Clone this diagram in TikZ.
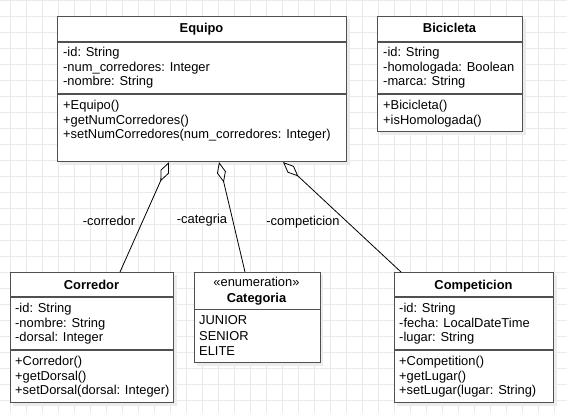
\documentclass[tikz,border=0pt]{standalone}
\usepackage{fontspec}
\setmainfont{Liberation Sans}
\usetikzlibrary{arrows.meta,calc}
\definecolor{gridc}{RGB}{234,234,234}
\definecolor{boxc}{RGB}{80,80,80}
\definecolor{shadc}{RGB}{236,236,236}
\begin{document}
\begin{tikzpicture}[x=1pt,y=-1pt,
  box/.style={draw=boxc, line width=1.1pt, fill=white, rectangle, inner sep=0pt, anchor=north west},
  shad/.style={fill=shadc, draw=none},
  sepline/.style={draw=boxc, line width=1.1pt},
  txt/.style={anchor=base west, inner sep=0pt, font=\fontsize{12.9}{14.5}\selectfont},
  ttl/.style={anchor=base, inner sep=0pt, font=\fontsize{12.9}{14.5}\selectfont\bfseries},
  lbl/.style={anchor=base, inner sep=0pt, font=\fontsize{12.9}{14.5}\selectfont},
  assoc/.style={draw=black, line width=0.8pt, {Diamond[open,length=21pt,width=9pt]}-},
  gridline/.style={draw=gridc, line width=0.8pt}
]
\useasboundingbox (0,0) rectangle (567,413);
\fill[white] (0,0) rectangle (567,413);
% grid
\foreach \gx in {0,...,35} \draw[gridline] (10.7+16*\gx,0) -- (10.7+16*\gx,413);
\foreach \gy in {0,...,25} \draw[gridline] (0,0.7+16*\gy) -- (567,0.7+16*\gy);

% shadows
\fill[shad] (60,19) rectangle (350,165);
\fill[shad] (380,19) rectangle (526,135);
\fill[shad] (13,275) rectangle (177,406);
\fill[shad] (197,275) rectangle (323,366);
\fill[shad] (397,275) rectangle (557,406);

% boxes
\node[box, minimum width=289pt, minimum height=145pt] (equipo) at (57,16) {};
\node[box, minimum width=145pt, minimum height=115pt] (bici) at (377,16) {};
\node[box, minimum width=163pt, minimum height=130pt] (corredor) at (10,272) {};
\node[box, minimum width=126pt, minimum height=90pt] (categoria) at (193.5,272) {};
\node[box, minimum width=159pt, minimum height=130pt] (competicion) at (394,272) {};

% separators
\draw[sepline] ($(equipo.north west)+(0,26)$) -- ($(equipo.north east)+(0,26)$);
\draw[sepline] ($(equipo.north west)+(0,78)$) -- ($(equipo.north east)+(0,78)$);
\draw[sepline] ($(bici.north west)+(0,26)$) -- ($(bici.north east)+(0,26)$);
\draw[sepline] ($(bici.north west)+(0,78)$) -- ($(bici.north east)+(0,78)$);
\draw[sepline] ($(corredor.north west)+(0,25)$) -- ($(corredor.north east)+(0,25)$);
\draw[sepline] ($(corredor.north west)+(0,78)$) -- ($(corredor.north east)+(0,78)$);
\draw[sepline] ($(categoria.north west)+(0,37.5)$) -- ($(categoria.north east)+(0,37.5)$);
\draw[sepline] ($(competicion.north west)+(0,25)$) -- ($(competicion.north east)+(0,25)$);
\draw[sepline] ($(competicion.north west)+(0,78)$) -- ($(competicion.north east)+(0,78)$);

% Equipo
\node[ttl] (eq-t) at (201.5,32.5) {Equipo};
\node[txt] (eq-a1) at (63,56.5) {-id: String};
\node[txt] (eq-a2) at (63,71) {-num\_corredores: Integer};
\node[txt] (eq-a3) at (63,85.5) {-nombre: String};
\node[txt] (eq-m1) at (63,109.5) {+Equipo()};
\node[txt] (eq-m2) at (63,124) {+getNumCorredores()};
\node[txt] (eq-m3) at (63,138.5) {+setNumCorredores(num\_corredores: Integer)};

% Bicicleta
\node[ttl] (bi-t) at (449.5,32.5) {Bicicleta};
\node[txt] (bi-a1) at (383,56.5) {-id: String};
\node[txt] (bi-a2) at (383,71) {-homologada: Boolean};
\node[txt] (bi-a3) at (383,85.5) {-marca: String};
\node[txt] (bi-m1) at (383,109.5) {+Bicicleta()};
\node[txt] (bi-m2) at (383,124) {+isHomologada()};

% Corredor
\node[ttl] (co-t) at (91.5,289.5) {Corredor};
\node[txt] (co-a1) at (15,312.5) {-id: String};
\node[txt] (co-a2) at (15,327) {-nombre: String};
\node[txt] (co-a3) at (15,341.5) {-dorsal: Integer};
\node[txt] (co-m1) at (15,365.5) {+Corredor()};
\node[txt] (co-m2) at (15,380) {+getDorsal()};
\node[txt] (co-m3) at (15,394.5) {+setDorsal(dorsal: Integer)};

% Categoria
\node[lbl] (ca-s) at (256.5,286.2) {«enumeration»};
\node[ttl] (ca-t) at (256.5,302.8) {Categoria};
\node[txt] (ca-1) at (199,324.6) {JUNIOR};
\node[txt] (ca-2) at (199,340.2) {SENIOR};
\node[txt] (ca-3) at (199,355.6) {ELITE};

% Competicion
\node[ttl] (cp-t) at (473.5,289.5) {Competicion};
\node[txt] (cp-a1) at (399,312.5) {-id: String};
\node[txt] (cp-a2) at (399,327) {-fecha: LocalDateTime};
\node[txt] (cp-a3) at (399,341.5) {-lugar: String};
\node[txt] (cp-m1) at (399,365.5) {+Competition()};
\node[txt] (cp-m2) at (399,380) {+getLugar()};
\node[txt] (cp-m3) at (399,394.5) {+setLugar(lugar: String)};

% connector end points
\path (equipo.south west) ++(112,0) coordinate (eqA);
\path (equipo.south west) ++(162,0) coordinate (eqB);
\path (equipo.south west) ++(226,0) coordinate (eqC);
\path (corredor.north west) ++(110,0) coordinate (coA);
\path (categoria.north west) ++(51.5,0) coordinate (caA);
\path (competicion.north west) ++(7,0) coordinate (cpA);

\draw[assoc] (eqA) -- (coA);
\draw[assoc] (eqB) -- (caA);
\draw[assoc] (eqC) -- (cpA);

% labels
\node[lbl] (l-co) at (109,225.5) {-corredor};
\node[lbl] (l-ca) at (202,223.5) {-categria};
\node[lbl] (l-cp) at (303,225.5) {-competicion};
\end{tikzpicture}
\end{document}
